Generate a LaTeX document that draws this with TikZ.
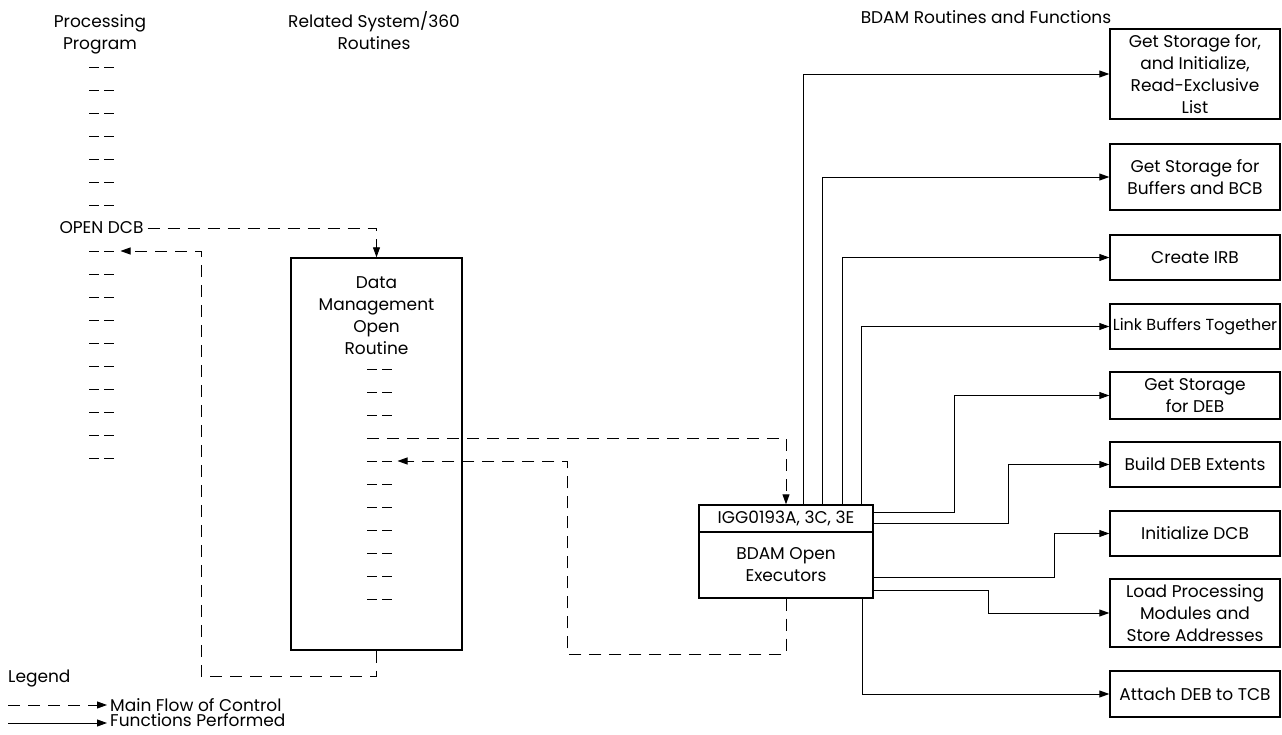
\documentclass[tikz,border=0pt]{standalone}
\usepackage{fontspec}
\setmainfont{Poppins}
\usetikzlibrary{arrows.meta,positioning}

\begin{document}
\begin{tikzpicture}[x=1pt,y=-1pt,
    every node/.style={font=\fontsize{17}{22}\selectfont, align=center, inner sep=0pt},
    fnbox/.style={draw, line width=1.4pt, minimum width=170pt},
    flow/.style={line width=0.9pt, dash pattern=on 12pt off 8pt, -{Triangle[length=10pt,width=7pt]}},
    fn/.style={line width=0.9pt, -{Triangle[length=10pt,width=7pt]}},
    codeln/.style={line width=0.9pt, dash pattern=on 10pt off 5pt}]

    \useasboundingbox (0,0) rectangle (1282,735);

    % column headings
    \node (pphead) at (100,34) {Processing\\Program};
    \node (syshead) at (374,31) {Related System/360\\Routines};
    \node (bdamhead) at (986,17) {BDAM Routines and Functions};

    % processing program
    \foreach \k in {0,...,17}{
        \coordinate (pp\k) at (101.5,{67+23*\k});
        \ifnum\k=7\else\draw [codeln] ([xshift=-12.5pt]pp\k) -- ([xshift=12.5pt]pp\k);\fi
    }
    \node (opendcb) at (pp7) {OPEN DCB};

    % data management open routine
    \node [draw, line width=1.4pt, minimum width=171pt, minimum height=392pt] (dmo) at (376.5,454) {};
    \node (dmtxt) at (376.5,315.5) {Data\\Management\\Open\\Routine};
    \foreach \k in {0,...,10}{
        \coordinate (dm\k) at (379.5,{369+23*\k});
        \ifnum\k=3\else\draw [codeln] ([xshift=-12.5pt]dm\k) -- ([xshift=12.5pt]dm\k);\fi
    }

    % open executors
    \node [draw, line width=1.4pt, minimum width=174pt, minimum height=27pt] (execid) at (786,518.5) {IGG0193A, 3C, 3E};
    \node [draw, line width=1.4pt, minimum width=174pt, minimum height=66pt] (execbody) at (786,565) {BDAM Open\\Executors};

    % functions
    \node [fnbox, minimum height=90pt] (rdlist) at (1195,74) {Get Storage for,\\and Initialize,\\Read-Exclusive\\List};
    \node [fnbox, minimum height=66pt] (bufbcb) at (1195,177) {Get Storage for\\Buffers and BCB};
    \node [fnbox, minimum height=45pt] (irb) at (1195,257.5) {Create IRB};
    \node [fnbox, minimum height=45pt, font=\fontsize{16}{22}\selectfont] (linkbuf) at (1195,326.5) {Link Buffers Together};
    \node [fnbox, minimum height=47pt] (debstore) at (1195,395.5) {Get Storage\\for DEB};
    \node [fnbox, minimum height=45pt] (debext) at (1195,464.5) {Build DEB Extents};
    \node [fnbox, minimum height=45pt] (initdcb) at (1195,533.5) {Initialize DCB};
    \node [fnbox, minimum height=68pt] (loadmod) at (1195,613) {Load Processing\\Modules and\\Store Addresses};
    \node [fnbox, minimum height=46pt] (attach) at (1195,694) {Attach DEB to TCB};

    % main flow of control
    \coordinate (retA) at (201,676);
    \coordinate (retB) at (567,654);
    \draw [flow] ([xshift=4pt]opendcb.east) -| (dmo.north);
    \draw [flow] ([xshift=-12.5pt]dm3) -| (execid.north);
    \draw [flow] (execbody.south) |- (retB) |- ([xshift=18pt]dm4);
    \draw [flow] (dmo.south) |- (retA) |- ([xshift=19pt]pp8);

    % functions performed
    \draw [fn] ([xshift=105pt]execid.north west) |- (rdlist.west);
    \draw [fn] ([xshift=124pt]execid.north west) |- (bufbcb.west);
    \draw [fn] ([xshift=144pt]execid.north west) |- (irb.west);
    \draw [fn] ([xshift=163pt]execid.north west) |- (linkbuf.west);
    \draw [fn] ([yshift=-8pt]execid.north east) -| ([xshift=-155pt]debstore.west) -- (debstore.west);
    \draw [fn] ([yshift=-19pt]execid.north east) -| ([xshift=-101pt]debext.west) -- (debext.west);
    \draw [fn] ([yshift=-46pt]execbody.north east) -| ([xshift=-55pt]initdcb.west) -- (initdcb.west);
    \draw [fn] ([yshift=-59pt]execbody.north east) -| ([xshift=-121pt]loadmod.west) -- (loadmod.west);
    \draw [fn] ([xshift=164pt]execbody.south west) |- (attach.west);

    % legend
    \node [anchor=west] (lgtitle) at (8,679) {Legend};
    \node [anchor=west] (lgflow) at (110,705) {Main Flow of Control};
    \node [anchor=west] (lgfn) at (110,720) {Functions Performed};
    \coordinate (lgflowst) at (8,705);
    \coordinate (lgfnst) at (8,723);
    \draw [flow] (lgflowst) -- ([xshift=-3pt]lgflow.west);
    \draw [fn] (lgfnst) -- ([xshift=-3pt]lgfn.west |- lgfnst);
\end{tikzpicture}
\end{document}
